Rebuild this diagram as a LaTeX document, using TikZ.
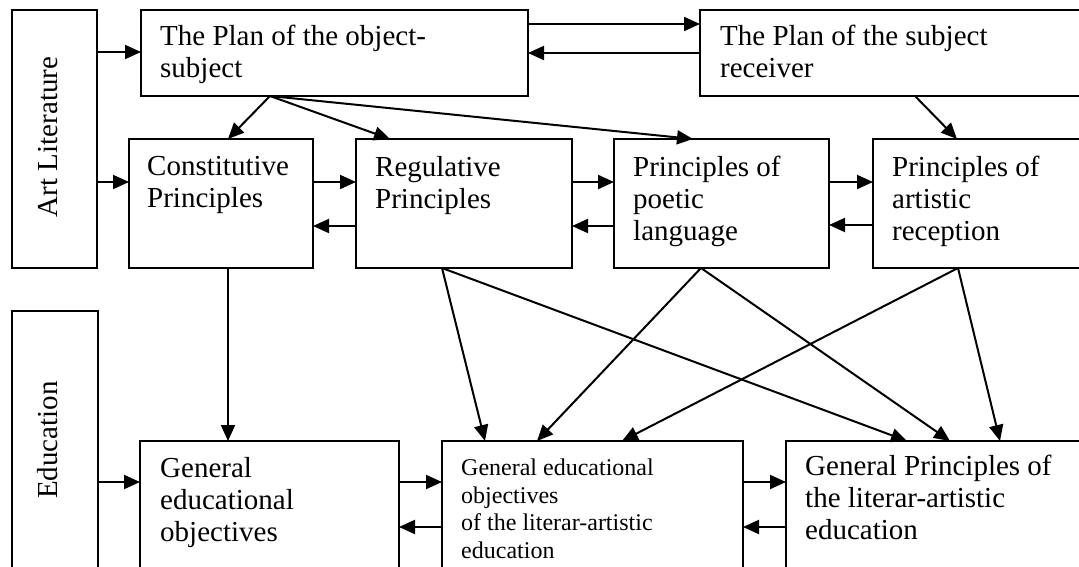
\documentclass[tikz,border=0pt]{standalone}
\usepackage{fontspec}
\setmainfont{Liberation Serif}
\usetikzlibrary{arrows.meta,calc}
\begin{document}
\begin{tikzpicture}[x=1pt,y=-1pt,
  box/.style={draw, line width=1.6pt, inner sep=0pt, outer sep=0pt, anchor=north west},
  txt/.style={anchor=north west, inner sep=0pt, align=left, font=\fontsize{29}{32}\selectfont},
  smalltxt/.style={txt, font=\fontsize{24}{27.5}\selectfont},
  side/.style={rotate=90, inner sep=0pt, font=\fontsize{29}{32}\selectfont},
  arr/.style={line width=2pt, -{Triangle[length=16pt,width=14pt]}},
]
\useasboundingbox (0,0) rectangle (1079,567);
\clip (0,0) rectangle (1079,567);

% side panels
\node[box, minimum width=85pt, minimum height=258pt] (art) at (12,10) {};
\node[side] (artT) at (48,137) {Art Literature};
\node[box, minimum width=86pt, minimum height=280pt] (edu) at (12,311) {};
\node[side] (eduT) at (48,440) {Education};

% top row
\node[box, minimum width=387pt, minimum height=86pt] (pos) at (141,10) {};
\node[txt] (posT) at (160,25) {The Plan of the object-\\subject};
\node[box, minimum width=400pt, minimum height=86pt] (psr) at (700,10) {};
\node[txt] (psrT) at (720,25) {The Plan of the subject\\receiver};

% principles row
\node[box, minimum width=184pt, minimum height=129pt] (con) at (129,139) {};
\node[txt] (conT) at (147,156) {Constitutive\\Principles};
\node[box, minimum width=216pt, minimum height=129pt] (reg) at (356,139) {};
\node[txt] (regT) at (375,156) {Regulative\\Principles};
\node[box, minimum width=215pt, minimum height=129pt] (poe) at (614,139) {};
\node[txt] (poeT) at (633,156) {Principles of\\poetic\\language};
\node[box, minimum width=230pt, minimum height=129pt] (rec) at (873,139) {};
\node[txt] (recT) at (892,156) {Principles of\\artistic\\reception};

% education row
\node[box, minimum width=259pt, minimum height=150pt] (geo) at (140,441) {};
\node[txt] (geoT) at (160,457) {General\\educational\\objectives};
\node[box, minimum width=301pt, minimum height=150pt] (mid) at (442,441) {};
\node[smalltxt] (midT) at (461,459) {General educational\\objectives\\of the literar-artistic\\education};
\node[box, minimum width=320pt, minimum height=150pt] (gpl) at (786,441) {};
\node[txt] (gplT) at (805,455) {General Principles of\\the literar-artistic\\education};

% side panel inputs
\draw[arr] ($(art.north east)+(0,42)$) -- ($(pos.north west)+(0,42)$);
\draw[arr] ($(art.north east)+(0,172)$) -- ($(con.north west)+(0,43)$);
\draw[arr] ($(edu.north east)+(0,171)$) -- ($(geo.north west)+(0,41)$);

% between the two plans
\draw[arr] ($(pos.north east)+(0,14)$) -- ($(psr.north west)+(0,14)$);
\draw[arr] ($(psr.north west)+(0,43)$) -- ($(pos.north east)+(0,43)$);

% plans to principles
\draw[arr] ($(pos.south west)+(129,0)$) -- ($(con.north west)+(99,0)$);
\draw[arr] ($(pos.south west)+(129,0)$) -- ($(reg.north west)+(34,0)$);
\draw[arr] ($(pos.south west)+(129,0)$) -- ($(poe.north west)+(79,0)$);
\draw[arr] ($(psr.south west)+(215,0)$) -- ($(rec.north west)+(84,0)$);

% between principles
\draw[arr] ($(con.north east)+(0,43)$) -- ($(reg.north west)+(0,43)$);
\draw[arr] ($(reg.north west)+(0,87)$) -- ($(con.north east)+(0,87)$);
\draw[arr] ($(reg.north east)+(0,43)$) -- ($(poe.north west)+(0,43)$);
\draw[arr] ($(poe.north west)+(0,87)$) -- ($(reg.north east)+(0,87)$);
\draw[arr] ($(poe.north east)+(0,43)$) -- ($(rec.north west)+(0,43)$);
\draw[arr] ($(rec.north west)+(0,86)$) -- ($(poe.north east)+(0,86)$);

% principles to education
\draw[arr] ($(con.south west)+(99,0)$) -- ($(geo.north west)+(88,0)$);
\draw[arr] ($(reg.south west)+(86,0)$) -- ($(mid.north west)+(43,0)$);
\draw[arr] ($(reg.south west)+(86,0)$) -- ($(gpl.north west)+(121,0)$);
\draw[arr] ($(poe.south west)+(87,0)$) -- ($(mid.north west)+(95,0)$);
\draw[arr] ($(poe.south west)+(87,0)$) -- ($(gpl.north west)+(164,0)$);
\draw[arr] ($(rec.south west)+(85,0)$) -- ($(mid.north west)+(180,0)$);
\draw[arr] ($(rec.south west)+(85,0)$) -- ($(gpl.north west)+(214,0)$);

% between education boxes
\draw[arr] ($(geo.north east)+(0,41)$) -- ($(mid.north west)+(0,41)$);
\draw[arr] ($(mid.north west)+(0,86)$) -- ($(geo.north east)+(0,86)$);
\draw[arr] ($(mid.north east)+(0,41)$) -- ($(gpl.north west)+(0,41)$);
\draw[arr] ($(gpl.north west)+(0,86)$) -- ($(mid.north east)+(0,86)$);
\end{tikzpicture}
\end{document}
